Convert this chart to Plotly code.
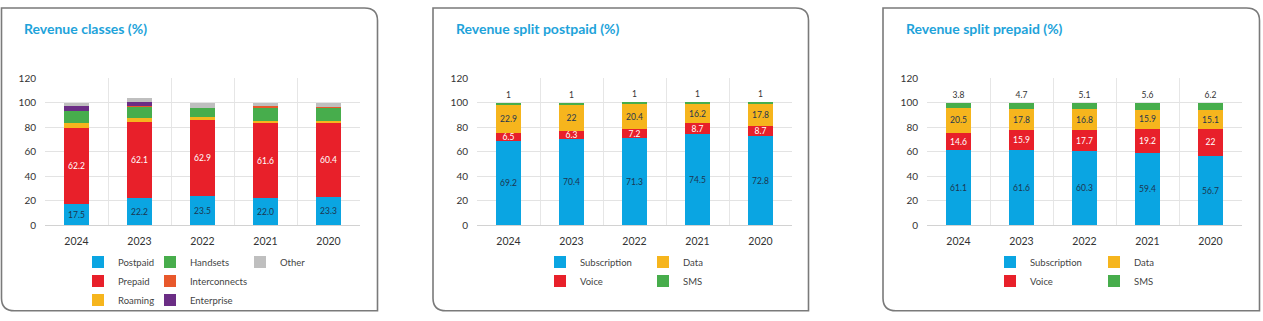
import plotly.graph_objects as go

W, H = 1263, 321

years = ["2024", "2023", "2022", "2021", "2020"]

# Revenue classes (%)
postpaid = [17.5, 22.2, 23.5, 22.0, 23.3]
prepaid = [62.2, 62.1, 62.9, 61.6, 60.4]
roaming = [3.9, 3.5, 1.8, 1.6, 1.5]
handsets = [9.5, 9.2, 7.4, 10.8, 10.6]
interconnects = [0.5, 0.2, 0.4, 1.1, 1.2]
enterprise = [4.2, 3.8, 0.0, 0.0, 0.0]
other = [2.2, 2.6, 4.1, 3.2, 3.1]

# Revenue split postpaid (%)
post_subscription = [69.2, 70.4, 71.3, 74.5, 72.8]
post_voice = [6.5, 6.3, 7.2, 8.7, 8.7]
post_data = [22.9, 22, 20.4, 16.2, 17.8]
post_sms = [1, 1, 1, 1, 1]

# Revenue split prepaid (%)
pre_subscription = [61.1, 61.6, 60.3, 59.4, 56.7]
pre_voice = [14.6, 15.9, 17.7, 19.2, 22]
pre_data = [20.5, 17.8, 16.8, 15.9, 15.1]
pre_sms = [3.8, 4.7, 5.1, 5.6, 6.2]

titles = ["Revenue classes (%)", "Revenue split postpaid (%)", "Revenue split prepaid (%)"]
y_ticks = [0, 20, 40, 60, 80, 100, 120]

BLUE = "#0aa5e2"
RED = "#e8202a"
YELLOW = "#f6b51d"
GREEN = "#47ad4c"
ORANGE = "#e8582b"
PURPLE = "#6b2d85"
GRAY = "#bfbfbf"
TITLE = "#1ea3da"
DARK = "#1d3550"
TXT = "#444444"
FONT = "Lato"

fig = go.Figure()


def px_x(x):
    return x / W


def px_y(y):
    return 1 - y / H


def add_bar(name, vals, color, axis, legend, fmt=None, textcolor=DARK, pos="inside"):
    xa, ya = axis
    if fmt is not None:
        kw = dict(
            text=[fmt(v) for v in vals],
            textposition=pos,
            insidetextanchor="middle",
            textangle=0,
            constraintext="none",
            textfont=dict(family=FONT, size=8.5, color=textcolor),
            cliponaxis=False,
        )
    else:
        kw = dict(textposition="none")
    fig.add_trace(go.Bar(
        x=years, y=vals, name=name, marker=dict(color=color, line=dict(width=0)),
        xaxis=xa, yaxis=ya, legend=legend, width=0.41, **kw))


def f1(v):
    return f"{v:.1f}"


def fg(v):
    return f"{v:g}"


# Chart 1
a1 = ("x", "y")
add_bar("Postpaid", postpaid, BLUE, a1, "legend", f1, DARK)
add_bar("Prepaid", prepaid, RED, a1, "legend", f1, "white")
add_bar("Roaming", roaming, YELLOW, a1, "legend")
add_bar("Handsets", handsets, GREEN, a1, "legend2")
add_bar("Interconnects", interconnects, ORANGE, a1, "legend2")
add_bar("Enterprise", enterprise, PURPLE, a1, "legend2")
add_bar("Other", other, GRAY, a1, "legend3")

# Chart 2
a2 = ("x2", "y2")
add_bar("Subscription", post_subscription, BLUE, a2, "legend4", fg, DARK)
add_bar("Voice", post_voice, RED, a2, "legend4", fg, "white")
add_bar("Data", post_data, YELLOW, a2, "legend5", fg, DARK)
add_bar("SMS", post_sms, GREEN, a2, "legend5", fg, "#333333", "outside")

# Chart 3
a3 = ("x3", "y3")
add_bar("Subscription", pre_subscription, BLUE, a3, "legend6", fg, DARK)
add_bar("Voice", pre_voice, RED, a3, "legend6", fg, "white")
add_bar("Data", pre_data, YELLOW, a3, "legend7", fg, DARK)
add_bar("SMS", pre_sms, GREEN, a3, "legend7", fg, "#333333", "outside")

plot_x = [(45, 360), (477, 792), (927, 1242)]
y_top, y_bot = 75, 227

layout = dict(
    width=W, height=H, margin=dict(l=0, r=0, t=0, b=0),
    paper_bgcolor="white", plot_bgcolor="white",
    barmode="stack", showlegend=True,
    font=dict(family=FONT, color=TXT),
)

for i, (x0, x1) in enumerate(plot_x):
    sfx = "" if i == 0 else str(i + 1)
    layout["xaxis" + sfx] = dict(
        domain=[px_x(x0), px_x(x1)], anchor="y" + sfx, type="category",
        tickson="boundaries", ticks="", showgrid=True, gridcolor="#e6e6e6", gridwidth=1,
        showline=False, tickfont=dict(family=FONT, size=10.5, color="#333333"),
        ticklabelstandoff=8, fixedrange=True,
    )
    layout["yaxis" + sfx] = dict(
        domain=[px_y(y_bot), px_y(y_top)], anchor="x" + sfx, range=[0, 120],
        tickvals=y_ticks, showgrid=True, gridcolor="#e3e3e3", gridwidth=1,
        zeroline=True, zerolinecolor="#d2d2d2", zerolinewidth=1,
        ticks="", tickfont=dict(family=FONT, size=10, color="#333333"),
        ticklabelstandoff=8, fixedrange=True,
    )

# legends: columns
leg_cols = [
    ("legend", 78), ("legend2", 150), ("legend3", 240),
    ("legend4", 540), ("legend5", 643),
    ("legend6", 990), ("legend7", 1094),
]
for name, lx in leg_cols:
    layout[name] = dict(
        x=px_x(lx), y=px_y(250), xanchor="left", yanchor="top",
        orientation="v", bgcolor="rgba(0,0,0,0)", borderwidth=0,
        font=dict(family=FONT, size=9.5, color=TXT), itemclick=False, itemdoubleclick=False,
        traceorder="normal",
    )

fig.update_layout(**layout)


def box_path(x0, y0, x1, y1, r):
    return (f"M {px_x(x0)},{px_y(y0)} L {px_x(x1 - r)},{px_y(y0)} "
            f"Q {px_x(x1)},{px_y(y0)} {px_x(x1)},{px_y(y0 + r)} "
            f"L {px_x(x1)},{px_y(y1)} L {px_x(x0 + r)},{px_y(y1)} "
            f"Q {px_x(x0)},{px_y(y1)} {px_x(x0)},{px_y(y1 - r)} Z")


boxes = [(1.5, 2, 377.5, 315.5), (433, 2, 808.5, 315.5), (883, 2, 1259.5, 315.5)]
title_x = [22, 454, 904]
for (bx0, by0, bx1, by1), tx, t in zip(boxes, title_x, titles):
    fig.add_shape(type="path", path=box_path(bx0, by0, bx1, by1, 13), xref="paper", yref="paper",
                  line=dict(color="#7a7a7a", width=1.6), layer="below")
    fig.add_annotation(text=f"<b>{t}</b>", x=px_x(tx), y=px_y(23), xref="paper", yref="paper",
                       xanchor="left", yanchor="middle", showarrow=False,
                       font=dict(family=FONT, size=14, color=TITLE))

fig.write_html("out.html")
